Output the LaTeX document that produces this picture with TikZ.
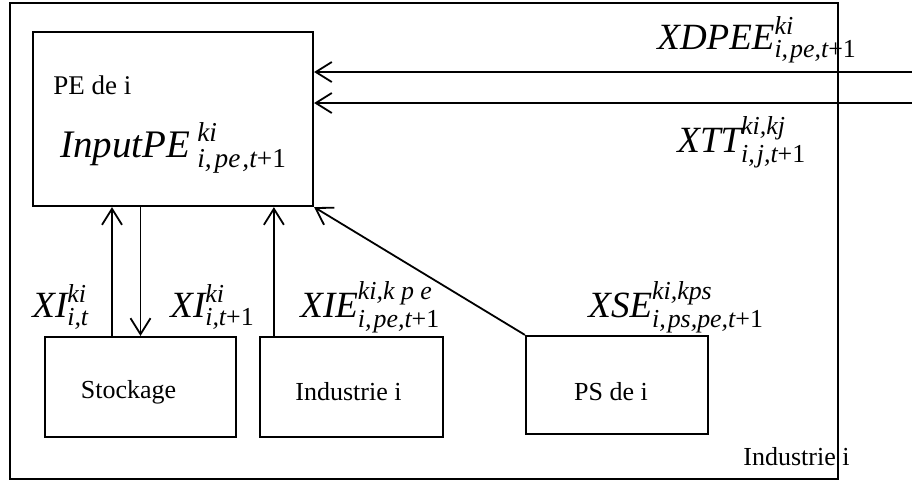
\documentclass[tikz,border=0pt]{standalone}
\usepackage{amsmath}
\usepackage{fontspec}
\setmainfont{Liberation Serif}
\usetikzlibrary{arrows.meta,positioning,calc}

\begin{document}
\begin{tikzpicture}[x=0.5pt,y=-0.5pt,
  box/.style={draw,line width=1.1pt,inner sep=0pt},
  flow/.style={-{Straight Barb[length=8pt,width=10pt]},line width=0.9pt},
  boxtext/.style={inner sep=0pt,font=\fontsize{13}{15}\selectfont},
  var/.style={anchor=base west,inner sep=0pt,font=\fontsize{18.5}{21}\selectfont}
]
\useasboundingbox (0,0) rectangle (912,484);
% boxes
\node[box,line width=1.3pt,minimum width=414pt,minimum height=238pt] (outer) at (424,241) {};
\node[box,minimum width=140pt,minimum height=87pt] (pe) at (173,119) {};
\node[box,minimum width=95.5pt,minimum height=50pt] (stock) at (140.5,387) {};
\node[box,minimum width=91.5pt,minimum height=50pt] (indus) at (351.5,387) {};
\node[box,minimum width=91pt,minimum height=49pt] (ps) at (617,385) {};
% texts in boxes
\node[anchor=base west,inner sep=0pt,font=\fontsize{13.5}{15}\selectfont] (pename) at (53,94) {PE de i};
\node[anchor=base west,inner sep=0pt,font=\fontsize{19.5}{22}\selectfont] (input) at (60,157)
  {$\textit{InputPE}\,^{\textit{ki}}_{\textit{i,\kern1.5pt pe\kern1pt,t}\textup{+1}}$};
\node[boxtext] (stocktxt) at ($(stock.center)+(-12,5)$) {Stockage};
\node[boxtext] (industxt) at ($(indus.center)+(-3,5)$) {Industrie i};
\node[boxtext] (pstxt) at ($(ps.center)+(-6,7)$) {PS de i};
\node[anchor=base west,inner sep=0pt,font=\fontsize{13}{15}\selectfont] (outertxt) at (743,465) {Industrie i};
% flow labels
\node[var] (xdpee) at (657,49) {$\textit{XDPEE}^{\textit{ki}}_{\textit{i,\kern1pt pe,t}\textup{+1}}$};
\node[var] (xtt) at (677,152) {$\textit{XTT}^{\textit{ki,kj}}_{\textit{i,\kern1pt j,t}\textup{+1}}$};
\node[var] (xiout) at (32,317) {$\textit{XI}^{\textit{ki}}_{\textit{i,t}}$};
\node[var] (xiin) at (170,317) {$\textit{XI}^{\textit{ki}}_{\textit{i,t}\textup{+1}}$};
\node[var] (xie) at (300,317) {$\textit{XIE}^{\textit{ki,k p e}}_{\textit{i,\kern1pt pe,t}\textup{+1}}$};
\node[var] (xse) at (588,317) {$\textit{XSE}^{\textit{ki,kps}}_{\textit{i,\kern1pt ps,pe,t}\textup{+1}}$};
% connectors
\coordinate (in1) at (912,72);
\coordinate (in2) at (912,103);
\coordinate (su) at ($(stock.north)+(-28.5,0)$);
\coordinate (iu) at ($(indus.north west)+(15,0)$);
\draw[flow] (in1) -- (in1 -| pe.east);
\draw[flow] (in2) -- (in2 -| pe.east);
\draw[flow] (su) -- (su |- pe.south);
\draw[flow] (pe.south -| stock.north) -- (stock.north);
\draw[flow] (iu) -- (iu |- pe.south);
\draw[flow] (ps.north west) -- (pe.south east);
\end{tikzpicture}
\end{document}
